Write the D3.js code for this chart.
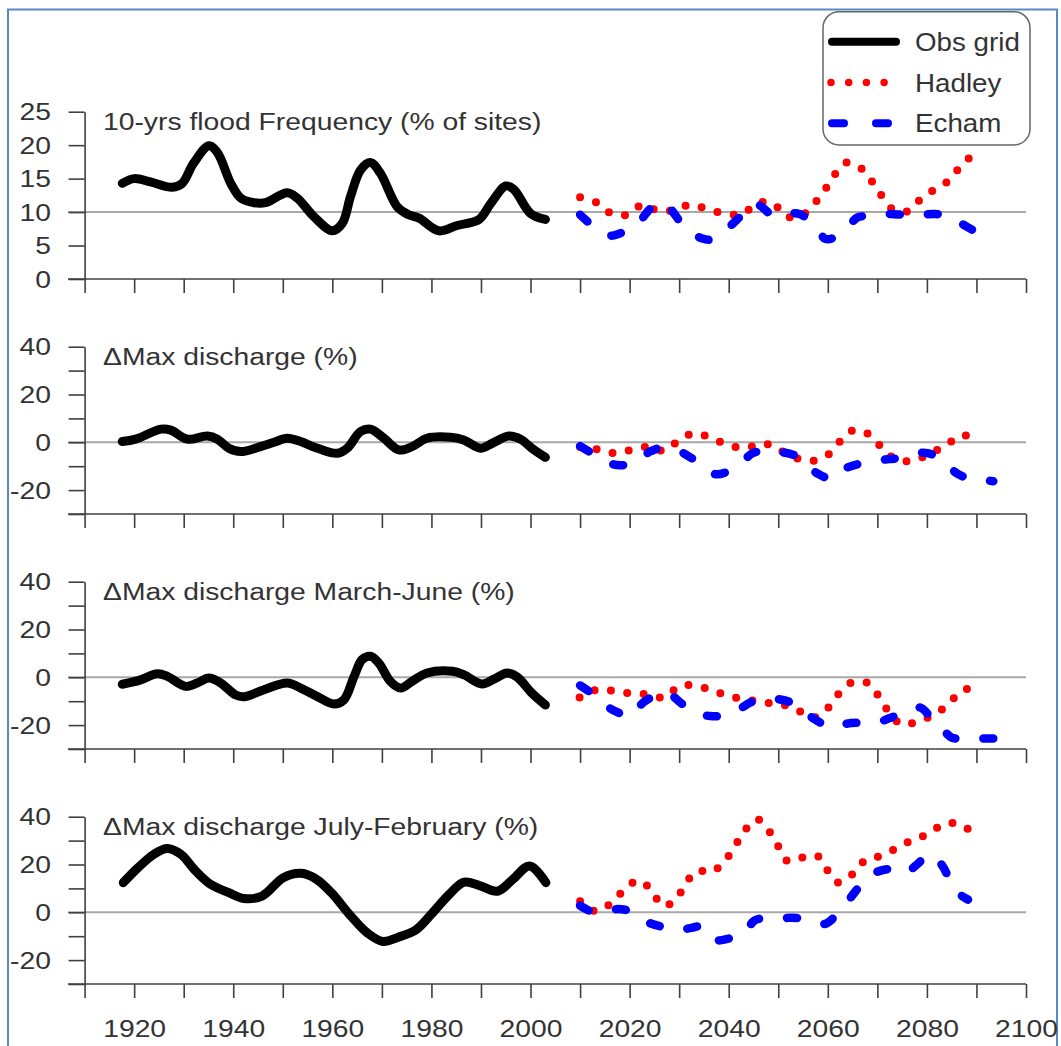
<!DOCTYPE html>
<html>
<head>
<meta charset="utf-8">
<script src="https://cdn.jsdelivr.net/npm/d3@7"></script>
<style>
    body { margin: 0; background: #fff; }
    svg text { font-family: "Liberation Sans", Arial, sans-serif; fill: #333; }
</style>
</head>
<body>
<svg id="chart" width="1061" height="1046"></svg>
<script>
// panel titles, legend and axis labels
const titles = [
    "10-yrs flood Frequency (% of sites)",
    "\u0394Max discharge (%)",
    "\u0394Max discharge March-June (%)",
    "\u0394Max discharge July-February (%)"
];
const legendLabels = ["Obs grid", "Hadley", "Echam"];
const yearTicks = d3.range(1910, 2101, 10);
const yearLabels = [1920, 1940, 1960, 1980, 2000, 2020, 2040, 2060, 2080, 2100];
const floodTicks = [0, 5, 10, 15, 20, 25];
const changeTicks = [-30, -20, -10, 0, 10, 20, 30, 40];
const changeLabels = [-20, 0, 20, 40];

// [year, value]
const obsFlood = [[1917.6,14.3],[1920,15.0],[1923.3,14.5],[1927.7,13.7],[1929.7,14.3],[1932,17.3],[1935.1,19.9],[1936.8,18.9],[1939.5,14.3],[1941.5,12.1],[1944.2,11.4],[1946.5,11.4],[1950.9,12.9],[1952.9,12.1],[1956.3,9.3],[1960,7.2],[1962,8.3],[1963.7,12.4],[1965.7,16.3],[1967.7,17.4],[1969.7,15.8],[1973.1,10.8],[1975.4,9.6],[1977.5,9.1],[1981.5,7.2],[1985.2,8.0],[1989.6,8.9],[1991.9,11.2],[1995,13.9],[1996.6,13.4],[2000,9.8],[2003,8.9]];
const hadleyFlood = [[2010,12.2],[2013.4,11.4],[2016.3,9.8],[2019.5,9.6],[2022.6,11.1],[2025.7,10.2],[2029,10.3],[2032.3,11.1],[2035.8,10.4],[2039.2,9.8],[2042.8,9.7],[2045.6,11.3],[2049,11.3],[2051.4,9.4],[2054.5,9.4],[2057.2,11.2],[2059.4,13.3],[2061.3,15.5],[2063.7,17.4],[2066.8,16.5],[2069,14.5],[2071,12.3],[2073.3,10.3],[2076.4,10.2],[2078.8,12],[2081.8,13.5],[2084.8,14.9],[2086.9,17.0],[2089.5,18.6]];
const echamFlood = [[2010,9.6],[2012.5,8.0],[2016,6.5],[2018,6.8],[2021,7.8],[2024.5,10.7],[2026.7,11.4],[2028,10.7],[2031.5,7.4],[2034.5,6.1],[2036.5,5.9],[2039.3,7.3],[2042,9.1],[2044.5,11.2],[2046,11.1],[2049,9.5],[2052,9.8],[2054.3,9.7],[2057.1,8.2],[2059.5,6.0],[2061,6.1],[2063.8,7.6],[2066,9.2],[2068.6,9.4],[2072.2,9.7],[2075,9.6],[2077.6,9.5],[2081.3,9.7],[2084,9.5],[2086.7,8.4],[2089.5,7.2]];

const obsMax = [[1917.6,0.3],[1920.3,1.3],[1925.4,5.5],[1927.4,5.1],[1930.7,1.3],[1934.8,2.6],[1936.8,1.3],[1939.1,-2.5],[1941.5,-3.9],[1945.5,-1.8],[1948.2,0],[1950.9,1.7],[1953.6,0.3],[1957,-2.5],[1961,-4.6],[1963,-2.5],[1965.7,4.5],[1967.7,5.5],[1970.4,1.7],[1973.4,-3.2],[1976.1,-1.8],[1979.1,1.7],[1983.8,2.1],[1986.5,1.0],[1989.9,-2.5],[1992.3,-0.4],[1995.6,2.6],[1998,1.3],[2000.3,-2.5],[2003,-6.3]];
const hadleyMax = [[2010,-2],[2013.7,-3.0],[2017.1,-4.6],[2020.4,-3.2],[2023.8,-1.9],[2027.1,-3.5],[2030.2,1.3],[2033.2,3.8],[2036.7,1.5],[2040.1,-1.3],[2043.5,-2.3],[2047,-0.4],[2050.2,-3.2],[2053.5,-6.5],[2057.1,-7.7],[2060.3,-4.8],[2062.6,0.7],[2065.3,5.2],[2068.6,2.9],[2071.1,-2.7],[2073.9,-7.3],[2077.4,-7.6],[2080.6,-4.6],[2083.8,-1.4],[2086.9,2.9],[2090,1.5]];
const echamMax = [[2010,-1.6],[2012.4,-4.6],[2015,-8],[2018.1,-9.6],[2021.3,-8.3],[2024,-4],[2026.5,-2.3],[2029.4,-3.0],[2032,-6],[2034.5,-9.1],[2037.2,-13.3],[2039.5,-12.5],[2042.3,-9.1],[2044.8,-4.6],[2047.5,-3.5],[2050.3,-4],[2053.7,-5.8],[2056,-10],[2058.1,-13.3],[2061.1,-15.3],[2063.5,-11],[2066.4,-9],[2069.9,-7.7],[2072.5,-7],[2075.2,-6.5],[2078.6,-4.4],[2081,-5],[2083.6,-8.9],[2086.3,-13.3],[2089,-15.5],[2091.7,-15.9],[2093.4,-16.3]];

const obsMarJun = [[1917.6,-2.9],[1921,-1.3],[1924.7,1.5],[1926.7,0.4],[1930.4,-3.8],[1932.7,-2.4],[1935.1,-0.3],[1937.5,-2.4],[1940.5,-7.4],[1942.2,-8.1],[1946.2,-5.2],[1950.9,-2.4],[1953.6,-4.5],[1957,-8.1],[1960.3,-11.2],[1962.3,-9.5],[1964.4,0.4],[1966,7.4],[1967.7,8.8],[1969.4,5.9],[1971.7,-1.7],[1973.8,-4.5],[1976.1,-1.7],[1979.1,1.8],[1984.2,2.5],[1986.5,1.1],[1990.2,-2.8],[1992.6,-0.8],[1995.3,1.8],[1997.3,0.1],[2000.3,-6.7],[2003,-11.6]];
const hadleyMarJun = [[2009.9,-8.4],[2013.2,-5.3],[2016.7,-5.6],[2020.1,-6.7],[2023.6,-7.1],[2027.1,-8.4],[2030,-3.6],[2033.3,-3.6],[2036.9,-5.6],[2040.3,-8.1],[2043.6,-9.2],[2047.1,-10.6],[2050.5,-11.2],[2053.8,-13.7],[2057.1,-16.8],[2059.9,-13.1],[2062.1,-7.1],[2064.8,-2.2],[2068.2,-2.5],[2070.4,-8.4],[2072.3,-14.4],[2074.9,-19.7],[2078.3,-18.3],[2081.6,-15.4],[2084.4,-11.2],[2086.9,-5.7],[2090,-4.5]];
const echamMarJun = [[2010,-3.4],[2012.4,-6.8],[2015,-11.5],[2017.4,-14.5],[2020.4,-16.2],[2022.5,-11],[2024.9,-7.8],[2026.5,-6.5],[2028,-6.9],[2030.5,-11],[2032.9,-14.5],[2036.2,-16.2],[2039,-16],[2041.6,-14.1],[2044.3,-10.6],[2047,-9],[2049.9,-9.1],[2053,-10.9],[2055,-14],[2057.4,-17.6],[2060.8,-21],[2063.5,-19.5],[2066.4,-19],[2069.9,-19],[2072.5,-17],[2075.2,-15.1],[2078.5,-12.6],[2080.5,-16],[2082.6,-20.4],[2085,-25.2],[2087.5,-25.6],[2090.4,-25.6],[2093.4,-25.6]];

const obsJulFeb = [[1917.8,12.4],[1920.8,18.7],[1924,24.3],[1926.7,26.7],[1929.4,24.3],[1932.4,17.3],[1935.4,11.7],[1939.1,8.2],[1942.1,5.8],[1945.8,6.8],[1950.1,14.5],[1953.7,16.3],[1956.8,13.8],[1959.8,8.2],[1963.5,-1],[1967.1,-8.7],[1970.2,-12.2],[1973.2,-10.5],[1976.9,-7.3],[1979.9,-1],[1983.6,7.5],[1986.6,12.6],[1989.7,11.2],[1993.3,8.8],[1996.4,13.7],[1999.8,19.4],[2003.1,12.4]];
const hadleyJulFeb = [[2010,4.6],[2013.2,0.4],[2016.2,3.7],[2018.9,9.3],[2021.7,13.3],[2024.4,9.3],[2026.6,2.8],[2029.2,5.0],[2031.1,11.2],[2033.5,17.3],[2036.5,16.8],[2039.2,21.5],[2041.2,27.5],[2043.2,34.1],[2045.7,39.0],[2048.1,34.1],[2049.9,27.9],[2051.8,21.5],[2054.8,22.9],[2057.9,23.6],[2059.9,17.7],[2062.1,12.4],[2065.2,16.3],[2067.6,21.9],[2070.6,23.6],[2074.1,27.1],[2077.1,30.3],[2080.2,32.7],[2083.4,36.9],[2086.7,36.9],[2089.5,32.7]];
const echamJulFeb = [[2010,2.8],[2013.2,-0.3],[2016,1],[2018.3,1.3],[2021,-0.3],[2023.5,-4],[2026.2,-5.9],[2029.9,-7.3],[2032.5,-6.5],[2034.7,-5.9],[2037.2,-11.5],[2040,-11],[2042.8,-9.4],[2045.3,-3.3],[2048,-2.5],[2050.4,-2.4],[2054,-2.4],[2057,-3.5],[2059.5,-4.8],[2062.5,0.8],[2065.6,8.8],[2068.1,15.2],[2070,17],[2072.4,18],[2075.5,16.3],[2078,20],[2080.5,24.3],[2082.9,20.1],[2085.9,8.8],[2088.3,5.3]];

const panels = [
    { title: titles[0], domain: [0, 25], ticks: floodTicks, labels: floodTicks, ref: 10, obs: obsFlood, had: hadleyFlood, ech: echamFlood },
    { title: titles[1], domain: [-30, 40], ticks: changeTicks, labels: changeLabels, ref: 0, obs: obsMax, had: hadleyMax, ech: echamMax },
    { title: titles[2], domain: [-30, 40], ticks: changeTicks, labels: changeLabels, ref: 0, obs: obsMarJun, had: hadleyMarJun, ech: echamMarJun },
    { title: titles[3], domain: [-30, 40], ticks: changeTicks, labels: changeLabels, ref: 0, obs: obsJulFeb, had: hadleyJulFeb, ech: echamJulFeb }
];

const svg = d3.select("#chart");
const sx = 1.23;          // the original picture is a bit stretched sideways
const axisColor = "#404040";

// frame around the picture
svg.append("rect")
    .attr("x", 8).attr("y", 9.5)
    .attr("width", 1049).attr("height", 1100)
    .attr("fill", "none")
    .attr("stroke", "#5a8ac6")
    .attr("stroke-width", 2);

const x = d3.scaleLinear().domain([1910, 2100]).range([84.6, 1026]);

panels.forEach((p, i) => {
    const bottom = 279 + i * 235;
    const y = d3.scaleLinear().domain(p.domain).range([bottom, bottom - 167.3]);
    const g = svg.append("g");

    // reference line
    g.append("line")
        .attr("x1", 68).attr("x2", 1026)
        .attr("y1", y(p.ref)).attr("y2", y(p.ref))
        .attr("stroke", "#a8a8a8")
        .attr("stroke-width", 2);

    // x axis
    const xAxis = g.append("g")
        .attr("transform", `translate(0,${bottom})`)
        .attr("color", axisColor)
        .call(d3.axisBottom(x).tickValues(yearTicks).tickSize(14).tickSizeOuter(0)
            .tickFormat(d => (i === 3 && yearLabels.includes(d)) ? d : ""));
    xAxis.select(".domain").remove();
    xAxis.selectAll(".tick line").attr("stroke-width", 1.6);
    xAxis.append("line")
        .attr("x1", 68).attr("x2", 1026)
        .attr("stroke", axisColor).attr("stroke-width", 1.6);
    xAxis.selectAll(".tick text")
        .attr("y", null).attr("dy", null)
        .attr("font-size", 23)
        .attr("transform", `translate(0,53) scale(${sx},1)`);

    // y axis
    const yAxis = g.append("g")
        .attr("transform", "translate(84.6,0)")
        .attr("color", axisColor)
        .call(d3.axisLeft(y).tickValues(p.ticks).tickSize(16).tickSizeOuter(0)
            .tickFormat(d => p.labels.includes(d) ? String(d) : ""));
    yAxis.select(".domain").attr("stroke-width", 1.6);
    yAxis.selectAll(".tick line").attr("stroke-width", 1.6);
    yAxis.selectAll(".tick text")
        .attr("x", null).attr("dy", "0.36em")
        .attr("font-size", 23)
        .attr("transform", `translate(-33.6,0) scale(${sx},1)`);

    // title
    g.append("text")
        .attr("transform", `translate(103,${bottom - 167.3 + 18}) scale(${sx},1)`)
        .attr("font-size", 23)
        .text(p.title);

    const line = d3.line()
        .x(d => x(d[0]))
        .y(d => y(d[1]))
        .curve(d3.curveCatmullRom);

    g.append("path")
        .attr("d", line(p.obs))
        .attr("fill", "none")
        .attr("stroke", "#000")
        .attr("stroke-width", 9)
        .attr("stroke-linecap", "round")
        .attr("stroke-linejoin", "round");

    g.append("path")
        .attr("d", line(p.had))
        .attr("fill", "none")
        .attr("stroke", "#ff0000")
        .attr("stroke-width", 8)
        .attr("stroke-dasharray", "0,16.5")
        .attr("stroke-linecap", "round");

    g.append("path")
        .attr("d", line(p.ech))
        .attr("fill", "none")
        .attr("stroke", "#0000ff")
        .attr("stroke-width", 8.5)
        .attr("stroke-dasharray", "10,28")
        .attr("stroke-linecap", "round");
});

// legend
const legend = svg.append("g");
legend.append("rect")
    .attr("x", 823).attr("y", 11.7)
    .attr("width", 207).attr("height", 133.3)
    .attr("rx", 16)
    .attr("fill", "#fff")
    .attr("stroke", "#666")
    .attr("stroke-width", 1.5);

const legendStyles = [
    { color: "#000", width: 8, dash: null, x1: 832, x2: 896 },
    { color: "#ff0000", width: 7.5, dash: "0,17.7", x1: 831, x2: 886 },
    { color: "#0000ff", width: 8, dash: "12,32", x1: 832, x2: 892 }
];
legendLabels.forEach((label, k) => {
    const ly = 41.7 + k * 40.8;
    const s = legendStyles[k];
    legend.append("line")
        .attr("x1", s.x1).attr("x2", s.x2)
        .attr("y1", ly).attr("y2", ly)
        .attr("stroke", s.color)
        .attr("stroke-width", s.width)
        .attr("stroke-linecap", "round")
        .attr("stroke-dasharray", s.dash);
    legend.append("text")
        .attr("transform", `translate(915,${ly + 9}) scale(1.11,1)`)
        .attr("font-size", 25)
        .text(label);
});
</script>
</body>
</html>
